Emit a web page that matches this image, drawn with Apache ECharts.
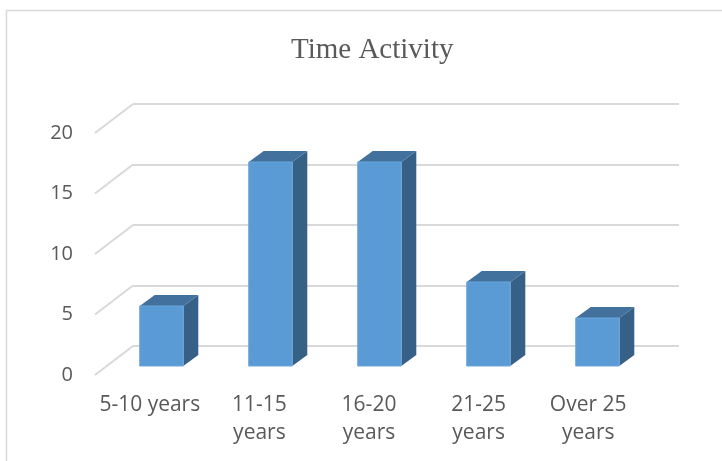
<!DOCTYPE html>
<html>
<head>
<meta charset="utf-8">
<script src="https://cdn.jsdelivr.net/npm/echarts@6/dist/echarts.min.js"></script>
<style>
  html, body { margin: 0; padding: 0; background: #ffffff; }
  #main { width: 722px; height: 461px; }
</style>
</head>
<body>
<div id="main"></div>
<script>
// data
var categories = ['5-10 years', '11-15\nyears', '16-20\nyears', '21-25\nyears', 'Over 25\nyears'];
var values = [5, 17, 17, 7, 4];
var yTicks = [0, 5, 10, 15, 20];

var textColor = '#595959';
var gridColor = '#d9d9d9';
// 3d look
var depthX = 15, depthY = 11;
var wallX = 38, wallY = 29;

var myChart = echarts.init(document.getElementById('main'));

// 斜线 (wall -> floor front)
function renderDiag(params, api){
    var p = api.coord([0, api.value(0)]);
    return {
        type: 'line',
        shape: { x1: p[0], y1: p[1], x2: p[0] - wallX, y2: p[1] + wallY },
        style: { stroke: gridColor, lineWidth: 2 }
    };
}

// 立体柱
function renderBar(params, api){
    var idx = api.value(0);
    var top = api.coord([idx, api.value(1)]);
    var base = api.coord([idx, 0]);
    var w = api.size([1, 0])[0] * 0.4;
    var x0 = top[0] - w / 2, x1 = top[0] + w / 2;
    return {
        type: 'group',
        children: [
            {
                type: 'polygon',
                shape: { points: [[x1, top[1]], [x1 + depthX, top[1] - depthY], [x1 + depthX, base[1] - depthY], [x1, base[1]]] },
                style: { fill: '#376087' }
            },
            {
                type: 'polygon',
                shape: { points: [[x0, top[1]], [x0 + depthX, top[1] - depthY], [x1 + depthX, top[1] - depthY], [x1, top[1]]] },
                style: { fill: '#41719c' }
            },
            {
                type: 'rect',
                shape: { x: x0, y: top[1], width: w, height: base[1] - top[1] },
                style: { fill: '#5b9bd5', stroke: '#6fa7dc', lineWidth: 1 }
            }
        ]
    };
}

var barData = values.map(function(v, i){ return [i, v]; });

var option = {
    backgroundColor: '#ffffff',
    animation: false,
    title: {
        text: 'Time Activity',
        left: 286,
        top: 31,
        textStyle: { fontFamily: 'Liberation Serif', fontSize: 29, fontWeight: 'normal', color: textColor }
    },
    graphic: [
        { type: 'line', shape: { x1: 6, y1: 10.5, x2: 722, y2: 10.5 }, style: { stroke: gridColor, lineWidth: 1.5 } },
        { type: 'line', shape: { x1: 6.5, y1: 10, x2: 6.5, y2: 461 }, style: { stroke: gridColor, lineWidth: 1.5 } }
    ],
    grid: [
        { left: 133, right: 43, top: 104, bottom: 115 },   // back wall
        { left: 107, right: 70, top: 126, bottom: 95 },    // bars
        { left: 95, right: 79, top: 133, bottom: 86 }      // front / labels
    ],
    xAxis: [
        { gridIndex: 0, type: 'value', min: 0, max: 1, show: false },
        { gridIndex: 1, type: 'category', data: categories, show: false },
        {
            gridIndex: 2, type: 'category', data: categories,
            axisLine: { show: false }, axisTick: { show: false },
            axisLabel: { color: textColor, fontFamily: 'Open Sans', fontSize: 21, lineHeight: 28, margin: 16, interval: 0 }
        }
    ],
    yAxis: [
        {
            gridIndex: 0, type: 'value', min: 0, max: 20, interval: 5,
            axisLine: { show: false }, axisTick: { show: false }, axisLabel: { show: false },
            splitLine: { lineStyle: { color: gridColor, width: 2 } }
        },
        { gridIndex: 1, type: 'value', min: 0, max: 20, interval: 5, show: false },
        {
            gridIndex: 2, type: 'value', min: 0, max: 20, interval: 5,
            axisLine: { show: false }, axisTick: { show: false }, splitLine: { show: false },
            axisLabel: { color: textColor, fontFamily: 'Open Sans', fontSize: 20, margin: 22 }
        }
    ],
    series: [
        {
            type: 'custom', xAxisIndex: 0, yAxisIndex: 0,
            data: yTicks, renderItem: renderDiag, silent: true
        },
        {
            type: 'custom', xAxisIndex: 1, yAxisIndex: 1,
            data: barData, encode: { x: 0, y: 1 }, renderItem: renderBar
        }
    ]
};
myChart.setOption(option);
</script>
</body>
</html>
